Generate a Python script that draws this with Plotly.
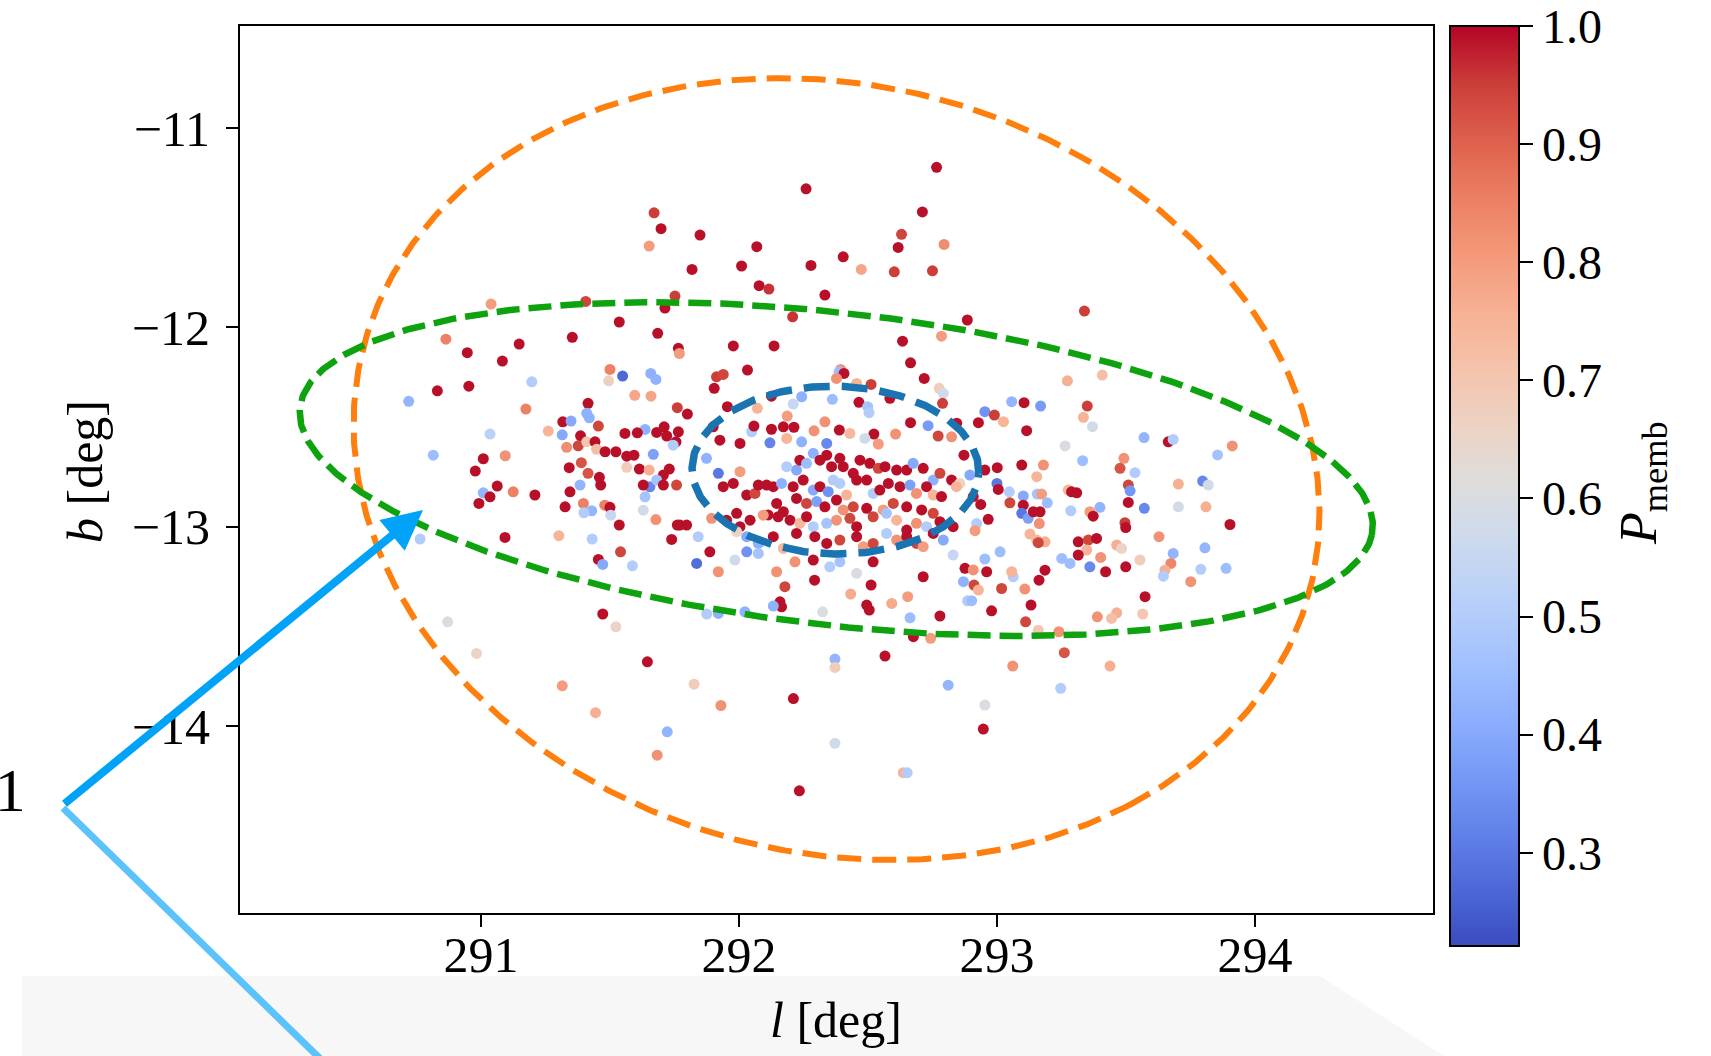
import numpy as np
import plotly.graph_objects as go

# ---------------------------------------------------------------------------
# Candidate members: galactic longitude l [deg], latitude b [deg], P_memb
# (grouped by sky area for readability)
# ---------------------------------------------------------------------------
l_west_upper = [291.671, 291.698, 291.652, 291.752, 291.713, 291.406, 291.039, 291.536, 291.354, 291.685,
                290.864, 290.947, 291.148, 291.083, 291.765, 291.500, 291.549, 291.495, 291.658, 291.678,
                291.197, 290.831, 290.953, 290.720, 291.596, 291.659, 291.415, 291.174, 291.761, 291.410,
                291.420, 291.317, 291.349, 291.455, 291.261, 291.315, 291.386, 291.035, 291.558, 291.636,
                291.606, 291.681, 291.710, 291.720, 291.756, 290.815, 291.094, 291.009, 290.978, 291.332,
                291.377, 291.410, 291.442, 291.448, 291.481, 291.523, 291.565, 291.593, 291.668, 291.342,
                291.389, 291.415, 291.459, 291.565, 291.614, 291.652, 291.730, 291.707, 291.745, 291.765]
b_west_upper = [-11.425, -11.505, -11.592, -11.843, -11.903, -11.870, -11.883, -11.973, -12.050, -12.030,
                -12.059, -12.127, -12.084, -12.169, -12.105, -12.211, -12.244, -12.268, -12.231, -12.261,
                -12.273, -12.318, -12.295, -12.371, -12.341, -12.345, -12.381, -12.410, -12.403, -12.431,
                -12.454, -12.474, -12.470, -12.495, -12.520, -12.539, -12.544, -12.535, -12.532, -12.512,
                -12.529, -12.527, -12.499, -12.545, -12.574, -12.641, -12.644, -12.659, -12.721, -12.602,
                -12.594, -12.574, -12.574, -12.612, -12.624, -12.624, -12.646, -12.641, -12.637, -12.704,
                -12.679, -12.732, -12.752, -12.702, -12.711, -12.716, -12.711, -12.741, -12.591, -12.524]
p_west_upper = [0.95, 0.99, 0.80, 0.95, 0.99, 0.94, 0.80, 0.99, 0.99, 0.99,
                0.85, 0.99, 0.99, 0.99, 0.99, 0.85, 0.27, 0.67, 0.42, 0.42,
                0.50, 0.99, 0.99, 0.43, 0.78, 0.78, 0.99, 0.85, 0.95, 0.42,
                0.42, 0.99, 0.40, 0.94, 0.75, 0.40, 0.99, 0.52, 0.99, 0.42,
                0.99, 0.99, 0.99, 0.99, 0.99, 0.45, 0.82, 0.99, 0.99, 0.83,
                0.94, 0.70, 0.99, 0.72, 0.99, 0.99, 0.99, 0.99, 0.38, 0.99,
                0.92, 0.92, 0.99, 0.68, 0.99, 0.76, 0.99, 0.99, 0.50, 0.99]

l_north = [292.766, 292.260, 292.711, 291.849, 292.630, 292.795, 292.069, 292.617, 291.818, 292.010,
           292.279, 292.404, 292.474, 292.602, 292.750, 292.078, 292.116, 292.333, 292.208, 292.885,
           291.769, 291.978, 292.136, 292.634, 292.785, 292.665, 292.718, 292.033, 291.913, 291.939,
           291.904, 292.394, 292.388, 292.407, 292.378, 292.512, 292.456, 292.776, 292.792, 292.789,
           292.585, 291.800, 291.955, 292.071, 292.126, 292.210, 292.243, 292.362, 292.465, 292.499,
           292.504, 292.187, 291.900, 292.733, 292.844, 292.665, 292.607, 292.824, 292.772, 292.540,
           292.523, 292.430, 292.488, 292.389, 292.333, 292.291, 292.120, 292.049, 292.058, 292.126,
           292.172, 292.213, 292.185, 292.243, 292.340, 291.926, 292.004]
b_north = [-11.197, -11.305, -11.421, -11.537, -11.533, -11.584, -11.595, -11.599, -11.709, -11.692,
           -11.689, -11.646, -11.709, -11.721, -11.716, -11.791, -11.808, -11.838, -11.947, -11.963,
           -12.131, -12.093, -12.093, -12.069, -12.044, -12.178, -12.256, -12.214, -12.248, -12.236,
           -12.306, -12.211, -12.223, -12.231, -12.256, -12.286, -12.281, -12.306, -12.331, -12.381,
           -12.356, -12.435, -12.398, -12.406, -12.345, -12.385, -12.348, -12.361, -12.376, -12.398,
           -12.428, -12.445, -12.499, -12.493, -12.481, -12.478, -12.535, -12.549, -12.545, -12.585,
           -12.535, -12.532, -12.557, -12.515, -12.474, -12.519, -12.579, -12.524, -12.495, -12.511,
           -12.499, -12.501, -12.557, -12.574, -12.582, -12.566, -12.582]
p_north = [0.99, 0.99, 0.99, 0.99, 0.94, 0.83, 0.99, 0.99, 0.99, 0.99,
           0.99, 0.99, 0.78, 0.95, 0.95, 0.99, 0.96, 0.99, 0.96, 0.99,
           0.80, 0.99, 0.99, 0.99, 0.80, 0.99, 0.99, 0.99, 0.95, 0.94,
           0.99, 0.82, 0.45, 0.99, 0.82, 0.95, 0.75, 0.68, 0.57, 0.95,
           0.99, 0.99, 0.99, 0.75, 0.99, 0.55, 0.42, 0.45, 0.99, 0.47,
           0.50, 0.80, 0.99, 0.37, 0.99, 0.99, 0.82, 0.82, 0.94, 0.80,
           0.99, 0.74, 0.57, 0.99, 0.82, 0.82, 0.32, 0.50, 0.99, 0.99,
           0.99, 0.99, 0.75, 0.42, 0.33, 0.99, 0.99]

l_core = [291.874, 291.920, 292.004, 291.939, 291.978, 292.030, 292.062, 292.075, 292.107, 292.133,
          292.165, 292.146, 292.113, 292.172, 292.210, 292.223, 292.236, 292.262, 292.288, 292.314,
          292.340, 292.359, 292.391, 292.404, 292.443, 292.469, 292.507, 292.540, 292.566, 292.611,
          292.650, 292.675, 292.714, 292.753, 292.779, 292.824, 292.856, 292.895, 292.185, 292.249,
          292.288, 292.314, 292.346, 292.365, 292.391, 292.417, 292.456, 292.495, 292.520, 292.546,
          292.579, 292.624, 292.663, 292.688, 292.727, 292.753, 292.785, 292.843, 292.908, 292.223,
          292.262, 292.301, 292.333, 292.378, 292.404, 292.443, 292.495, 292.559, 292.598, 292.650,
          292.708, 292.753, 291.771, 291.797, 291.894, 291.952, 291.991, 292.004, 292.043, 292.094,
          292.152, 292.198, 292.236, 292.262, 292.288, 292.340, 292.378, 292.430, 292.456, 292.520,
          292.572, 292.611, 292.650, 292.688, 292.727, 292.779, 292.830, 291.842, 291.887, 291.991,
          292.030, 292.075, 292.133, 292.172, 292.223, 292.294, 292.340, 292.391, 292.456, 292.482,
          292.520, 292.572, 292.611, 292.650, 292.688, 292.714, 292.753, 292.792, 291.836, 291.920,
          291.984, 292.030, 292.075, 292.146, 292.217, 292.288, 292.352, 292.391, 292.456, 292.520,
          292.714, 292.830, 292.876, 292.908]
b_core = [-12.657, -12.732, -12.724, -12.799, -12.783, -12.841, -12.833, -12.791, -12.791, -12.799,
          -12.783, -12.883, -12.941, -12.925, -12.799, -12.716, -12.666, -12.682, -12.632, -12.666,
          -12.641, -12.699, -12.657, -12.699, -12.732, -12.666, -12.682, -12.707, -12.699, -12.716,
          -12.716, -12.682, -12.707, -12.766, -12.732, -12.766, -12.783, -12.741, -12.699, -12.766,
          -12.816, -12.799, -12.824, -12.766, -12.783, -12.841, -12.766, -12.766, -12.833, -12.816,
          -12.783, -12.799, -12.791, -12.833, -12.799, -12.841, -12.849, -12.799, -12.849, -12.858,
          -12.883, -12.874, -12.900, -12.866, -12.916, -12.900, -12.908, -12.916, -12.883, -12.900,
          -12.916, -12.933, -12.992, -12.992, -12.958, -12.967, -12.933, -13.000, -12.967, -12.942,
          -12.950, -12.967, -12.983, -12.950, -13.000, -12.983, -12.967, -12.958, -13.000, -12.950,
          -12.933, -12.967, -13.017, -12.983, -13.000, -12.975, -13.000, -13.050, -13.126, -13.025,
          -13.050, -13.084, -13.050, -13.109, -13.034, -13.050, -13.084, -13.067, -13.050, -13.100,
          -13.084, -13.034, -13.067, -13.050, -13.084, -13.100, -13.034, -13.067, -13.184, -13.226,
          -13.167, -13.126, -13.134, -13.226, -13.176, -13.167, -13.201, -13.176, -13.234, -13.176,
          -13.251, -13.142, -13.209, -13.217]
p_core = [0.42, 0.30, 0.80, 0.99, 0.99, 0.99, 0.94, 0.99, 0.99, 0.99,
          0.42, 0.99, 0.99, 0.99, 0.99, 0.40, 0.99, 0.45, 0.42, 0.99,
          0.99, 0.99, 0.99, 0.99, 0.99, 0.99, 0.99, 0.94, 0.99, 0.99,
          0.99, 0.40, 0.99, 0.42, 0.94, 0.99, 0.66, 0.40, 0.50, 0.99,
          0.40, 0.99, 0.35, 0.50, 0.50, 0.75, 0.99, 0.99, 0.50, 0.99,
          0.99, 0.99, 0.38, 0.82, 0.99, 0.75, 0.99, 0.75, 0.99, 0.99,
          0.94, 0.38, 0.99, 0.99, 0.82, 0.94, 0.99, 0.80, 0.94, 0.99,
          0.99, 0.94, 0.99, 0.99, 0.82, 0.99, 0.99, 0.99, 0.99, 0.80,
          0.99, 0.99, 0.74, 0.99, 0.50, 0.47, 0.82, 0.94, 0.99, 0.94,
          0.47, 0.75, 0.99, 0.82, 0.50, 0.99, 0.99, 0.50, 0.99, 0.66,
          0.40, 0.42, 0.99, 0.74, 0.99, 0.99, 0.99, 0.94, 0.99, 0.80,
          0.94, 0.50, 0.82, 0.99, 0.94, 0.80, 0.99, 0.40, 0.28, 0.82,
          0.57, 0.35, 0.47, 0.82, 0.82, 0.99, 0.50, 0.47, 0.60, 0.99,
          0.99, 0.55, 0.99, 0.82]

l_south = [292.293, 292.178, 292.159, 292.165, 292.133, 292.023, 291.920, 291.875, 292.324, 292.433,
           292.512, 292.495, 292.505, 292.592, 292.654, 292.663, 292.779, 292.676, 292.743, 292.870,
           292.886, 292.372, 292.372, 292.566, 292.811, 291.826, 291.930, 292.211, 292.372, 292.637,
           292.652, 292.234]
b_south = [-13.268, -13.301, -13.377, -13.402, -13.398, -13.427, -13.435, -13.438, -13.427, -13.338,
           -13.293, -13.393, -13.418, -13.385, -13.351, -13.457, -13.448, -13.552, -13.560, -13.276,
           -13.372, -13.664, -13.706, -13.649, -13.795, -13.790, -13.897, -13.862, -14.087, -14.234,
           -14.234, -14.325]
p_south = [0.99, 0.94, 0.99, 0.99, 0.42, 0.42, 0.42, 0.50, 0.60, 0.77,
           0.99, 0.99, 0.99, 0.77, 0.80, 0.45, 0.99, 0.99, 0.80, 0.42,
           0.50, 0.43, 0.68, 0.99, 0.43, 0.68, 0.82, 0.99, 0.57, 0.75,
           0.50, 0.99]

l_west_lower = [291.063, 291.009, 291.035, 290.992, 291.125, 291.209, 291.345, 291.326, 291.384, 291.397,
                291.429, 291.399, 291.464, 291.480, 291.500, 291.503, 291.536, 291.629, 291.636, 291.655,
                291.681, 291.629, 291.707, 291.758, 291.678, 291.761, 291.739, 290.764, 291.093, 291.302,
                291.431, 291.541, 291.455, 291.472, 291.587, 291.472, 291.523, 290.871, 290.983, 291.315,
                291.444, 291.645, 291.722, 291.683]
b_west_lower = [-12.796, -12.830, -12.850, -12.883, -12.825, -12.841, -12.825, -12.900, -12.791, -12.883,
                -12.920, -12.930, -12.791, -12.892, -12.903, -12.942, -12.992, -12.917, -12.850, -12.800,
                -12.766, -12.791, -12.791, -12.791, -12.964, -12.992, -13.064, -13.062, -13.054, -13.045,
                -13.062, -13.126, -13.164, -13.189, -13.196, -13.438, -13.502, -13.477, -13.636, -13.798,
                -13.933, -13.678, -14.029, -14.146]
p_west_lower = [0.99, 0.43, 0.99, 0.99, 0.85, 0.99, 0.99, 0.99, 0.43, 0.85,
                0.43, 0.50, 0.99, 0.85, 0.99, 0.55, 0.99, 0.58, 0.47, 0.33,
                0.47, 0.99, 0.99, 0.94, 0.82, 0.99, 0.99, 0.50, 0.99, 0.75,
                0.50, 0.94, 0.99, 0.40, 0.50, 0.99, 0.66, 0.60, 0.66, 0.80,
                0.76, 0.99, 0.43, 0.82]

l_east_upper = [293.339, 293.273, 293.408, 293.057, 293.105, 293.169, 292.953, 292.990, 292.928, 293.025,
                293.115, 293.350, 293.335, 293.370, 293.264, 293.570, 293.664, 293.683, 293.855, 293.912,
                292.872, 292.953, 293.001, 293.096, 293.180, 293.154, 293.332, 293.492, 293.477, 293.535]
b_east_upper = [-11.918, -12.268, -12.239, -12.373, -12.378, -12.395, -12.423, -12.440, -12.478, -12.473,
                -12.518, -12.395, -12.451, -12.498, -12.595, -12.553, -12.574, -12.562, -12.640, -12.595,
                -12.641, -12.716, -12.704, -12.691, -12.691, -12.749, -12.669, -12.657, -12.707, -12.729]
p_east_upper = [0.95, 0.76, 0.72, 0.43, 0.99, 0.37, 0.35, 0.95, 0.99, 0.75,
                0.99, 0.95, 0.75, 0.58, 0.60, 0.43, 0.99, 0.50, 0.47, 0.82,
                0.99, 0.99, 0.99, 0.99, 0.82, 0.75, 0.45, 0.82, 0.92, 0.50]

l_east_lower = [293.000, 293.005, 293.048, 293.102, 293.156, 293.173, 293.195, 293.050, 293.102, 292.937,
                293.096, 293.121, 293.141, 293.167, 293.164, 293.128, 293.154, 293.186, 293.160, 292.966,
                292.921, 292.915, 293.276, 293.289, 293.309, 293.286, 293.360, 293.373, 293.399, 293.509,
                293.516, 293.509, 293.496, 293.499, 293.571, 293.703, 293.797, 293.819, 293.703, 293.810,
                293.903, 293.628, 293.683, 293.674, 293.651, 293.645, 293.806, 293.790, 293.888, 293.751,
                293.554, 293.499, 293.464, 293.483, 293.402, 293.421, 293.360, 293.315, 293.354, 293.386,
                293.348, 293.315, 293.251, 293.283, 293.186, 293.163, 293.132, 293.108, 293.063, 293.057,
                293.018, 293.012, 292.953, 292.960, 292.911, 292.928, 292.902, 292.979, 293.111, 293.160,
                293.240, 293.261, 293.061, 293.389, 293.464, 293.444, 293.565, 293.574, 293.438, 293.247,
                292.953, 292.947]
b_east_lower = [-12.783, -12.813, -12.825, -12.846, -12.836, -12.836, -12.880, -12.880, -12.892, -12.888,
                -12.933, -12.958, -12.925, -12.925, -12.984, -13.037, -13.067, -13.076, -13.080, -12.963,
                -12.984, -13.020, -12.816, -12.825, -12.830, -12.920, -12.925, -12.947, -12.903, -12.791,
                -12.820, -12.878, -12.980, -13.004, -12.908, -12.786, -12.771, -12.791, -12.900, -12.900,
                -12.989, -13.050, -13.134, -13.184, -13.218, -13.248, -13.106, -13.214, -13.209, -13.276,
                -13.167, -13.201, -13.092, -13.109, -13.154, -13.226, -13.201, -13.076, -13.067, -13.059,
                -13.117, -13.142, -13.159, -13.184, -13.218, -13.268, -13.393, -13.313, -13.251, -13.226,
                -13.310, -13.126, -13.162, -13.226, -13.293, -13.318, -13.371, -13.422, -13.477, -13.519,
                -13.527, -13.632, -13.699, -13.452, -13.432, -13.460, -13.438, -13.351, -13.699, -13.811,
                -13.895, -14.015]
p_east_lower = [0.30, 0.99, 0.50, 0.40, 0.47, 0.80, 0.45, 0.94, 0.99, 0.99,
                0.30, 0.38, 0.99, 0.99, 0.82, 0.75, 0.74, 0.76, 0.94, 0.99,
                0.50, 0.80, 0.74, 0.99, 0.99, 0.50, 0.80, 0.99, 0.43, 0.94,
                0.36, 0.99, 0.95, 0.99, 0.33, 0.76, 0.33, 0.58, 0.58, 0.76,
                0.99, 0.82, 0.43, 0.84, 0.76, 0.50, 0.43, 0.50, 0.45, 0.82,
                0.68, 0.99, 0.76, 0.66, 0.82, 0.99, 0.33, 0.99, 0.94, 0.99,
                0.75, 0.99, 0.45, 0.45, 0.99, 0.99, 0.99, 0.82, 0.50, 0.75,
                0.94, 0.45, 0.45, 0.99, 0.94, 0.75, 0.45, 0.99, 0.94, 0.70,
                0.82, 0.92, 0.82, 0.82, 0.76, 0.72, 0.70, 0.99, 0.76, 0.50,
                0.60, 0.99]

# Outline ellipses: centre (l, b), semi-axes (deg) and rotation angle (deg)
ell_center_l = [292.378, 292.377, 292.374]
ell_center_b = [-12.711, -12.711, -12.716]
ell_semi_major = [2.032, 2.102, 0.556]
ell_semi_minor = [1.795, 0.780, 0.421]
ell_angle = [-56.1, -9.0, -2.0]

# Axis ticks
x_ticks = [291, 292, 293, 294]
y_ticks = [-14, -13, -12, -11]
cbar_ticks = [0.3, 0.4, 0.5, 0.6, 0.7, 0.8, 0.9, 1.0]

# ---------------------------------------------------------------------------
# Styling
# ---------------------------------------------------------------------------
FONT = "Liberation Serif"
W, H = 1711, 1056
PL, PR, PT, PB = 240, 1433, 26, 913          # plot-area edges in pixels

ELL_COLORS = ["#ff7f0e", "#0ea30e", "#1a74b1"]
ELL_WIDTHS = [6, 6.5, 7.5]
ELL_DASHES = ["24px,11px", "23px,9px", "26px,12px"]

# matplotlib "coolwarm"
COOLWARM = [
    [0.0, "rgb(59,76,192)"], [0.0625, "rgb(77,104,215)"], [0.125, "rgb(98,130,234)"],
    [0.1875, "rgb(119,154,247)"], [0.25, "rgb(141,176,254)"], [0.3125, "rgb(163,194,255)"],
    [0.375, "rgb(184,208,249)"], [0.4375, "rgb(204,217,238)"], [0.5, "rgb(221,221,221)"],
    [0.5625, "rgb(236,211,197)"], [0.625, "rgb(245,196,173)"], [0.6875, "rgb(247,177,148)"],
    [0.75, "rgb(244,154,123)"], [0.8125, "rgb(236,127,99)"], [0.875, "rgb(222,96,77)"],
    [0.9375, "rgb(203,62,56)"], [1.0, "rgb(180,4,38)"],
]
P_MIN, P_MAX = 0.221, 1.0


def pxx(x):
    """Horizontal pixel -> paper fraction."""
    return (x - PL) / (PR - PL)


def pxy(y):
    """Vertical pixel -> paper fraction."""
    return (PB - y) / (PB - PT)


gal_l = l_west_upper + l_north + l_core + l_south + l_west_lower + l_east_upper + l_east_lower
gal_b = b_west_upper + b_north + b_core + b_south + b_west_lower + b_east_upper + b_east_lower
p_memb = p_west_upper + p_north + p_core + p_south + p_west_lower + p_east_upper + p_east_lower

# the top tick sits exactly on the end of the bar; nudge it inside the range
cbar_tickpos = [min(v, P_MAX - 1e-4) for v in cbar_ticks]

fig = go.Figure()

fig.add_trace(go.Scatter(
    x=gal_l, y=gal_b, mode="markers", hoverinfo="skip", showlegend=False,
    marker=dict(
        size=11, color=p_memb, colorscale=COOLWARM, cmin=P_MIN, cmax=P_MAX,
        line=dict(width=0),
        colorbar=dict(
            thickness=69, thicknessmode="pixels",
            len=920, lenmode="pixels",
            x=pxx(1450), xanchor="left", y=pxy(486), yanchor="middle",
            xpad=0, ypad=0,
            outlinewidth=2, outlinecolor="black",
            ticks="outside", ticklen=13, tickwidth=2, tickcolor="black",
            tickvals=cbar_tickpos, ticktext=[f"{v:.1f}" for v in cbar_ticks],
            ticklabeloverflow="allow",
            tickfont=dict(family=FONT, size=48, color="black"),
        ),
    ),
))

# dashed outline ellipses
t = np.linspace(0, 2 * np.pi, 600)
for i in range(len(ell_center_l)):
    th = np.radians(ell_angle[i])
    a, b = ell_semi_major[i], ell_semi_minor[i]
    el = ell_center_l[i] + a * np.cos(t) * np.cos(th) - b * np.sin(t) * np.sin(th)
    eb = ell_center_b[i] + a * np.cos(t) * np.sin(th) + b * np.sin(t) * np.cos(th)
    fig.add_trace(go.Scatter(
        x=el, y=eb, mode="lines", hoverinfo="skip", showlegend=False,
        line=dict(color=ELL_COLORS[i], width=ELL_WIDTHS[i], dash=ELL_DASHES[i]),
    ))

axis_common = dict(
    showline=True, linecolor="black", linewidth=2, mirror=True,
    ticks="outside", ticklen=12, tickwidth=2, tickcolor="black",
    showgrid=False, zeroline=False,
    tickfont=dict(family=FONT, size=50, color="black"),
)

fig.update_layout(
    width=W, height=H,
    margin=dict(l=PL, r=W - PR, t=PT, b=H - PB),
    paper_bgcolor="white", plot_bgcolor="white",
    font=dict(family=FONT, color="black"),
    xaxis=dict(range=[290.066, 294.69], tickvals=x_ticks, ticklabelstandoff=-15, **axis_common),
    yaxis=dict(range=[-14.938, -10.488], tickvals=y_ticks, ticklabelstandoff=6, **axis_common),
)

# light band along the bottom of the page
fig.add_shape(
    type="path", xref="paper", yref="paper", layer="below",
    path=(f"M {pxx(22)},{pxy(976)} L {pxx(1320)},{pxy(976)} "
          f"L {pxx(1450)},{pxy(1060)} L {pxx(22)},{pxy(1060)} Z"),
    fillcolor="#f7f7f7", line=dict(width=0),
)

# axis titles and colour-bar label
fig.add_annotation(xref="paper", yref="paper", x=pxx(836), y=pxy(1020),
                   xanchor="center", yanchor="middle",
                   text="<i>l</i> [deg]", showarrow=False,
                   font=dict(family=FONT, size=50, color="black"))
fig.add_annotation(xref="paper", yref="paper", x=pxx(85), y=pxy(472),
                   xanchor="center", yanchor="middle",
                   text="<i>b</i> [deg]", showarrow=False, textangle=-90,
                   font=dict(family=FONT, size=50, color="black"))
fig.add_annotation(xref="paper", yref="paper", x=pxx(1643), y=pxy(483),
                   xanchor="center", yanchor="middle",
                   text="<i>P</i><sub>memb</sub>", showarrow=False, textangle=-90,
                   font=dict(family=FONT, size=52, color="black"))

# call-out label and pointers
fig.add_annotation(xref="paper", yref="paper", x=pxx(28), y=pxy(790),
                   xanchor="right", yanchor="middle",
                   text="11", showarrow=False,
                   font=dict(family=FONT, size=62, color="black"))
fig.add_shape(type="line", xref="paper", yref="paper",
              x0=pxx(63), y0=pxy(808), x1=pxx(342), y1=pxy(1080),
              line=dict(color="#5cc2fb", width=7))
fig.add_annotation(xref="paper", yref="paper", x=pxx(423), y=pxy(510),
                   ax=63 - 423, ay=805 - 510, text="", showarrow=True,
                   arrowhead=2, arrowsize=1, arrowwidth=8, arrowcolor="#00a3f7")

fig.write_html("out.html")
